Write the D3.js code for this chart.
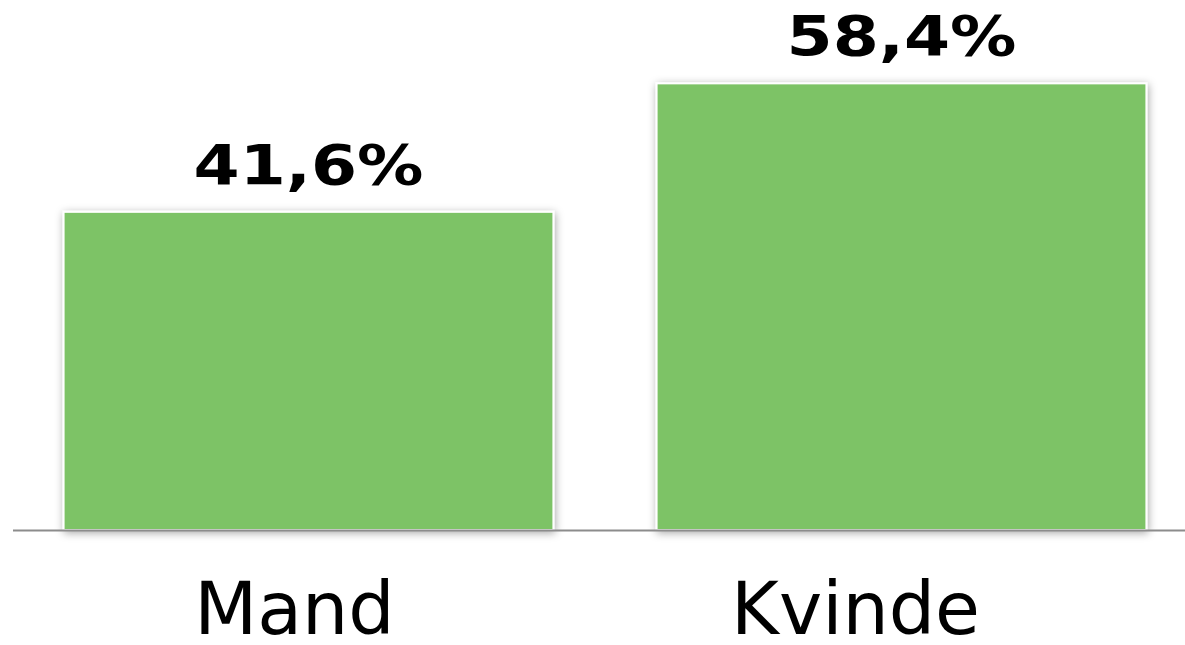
<!DOCTYPE html>
<html>
<head>
<meta charset="utf-8">
<script src="https://cdn.jsdelivr.net/npm/d3@7"></script>
<style>
  body { margin: 0; background: #fff; }
  svg { display: block; }
</style>
</head>
<body>
<svg id="chart"></svg>
<script>
// data
const categories = ["Mand", "Kvinde"];
const values = [41.6, 58.4];
const value_labels = ["41,6%", "58,4%"];

const width = 1185, height = 645;
const baseline = 530;

const svg = d3.select("#chart").attr("width", width).attr("height", height);

// bar shadow
const defs = svg.append("defs");
const filt = defs.append("filter").attr("id", "shadow")
  .attr("x", "-5%").attr("y", "-5%").attr("width", "115%").attr("height", "115%");
filt.append("feDropShadow")
  .attr("dx", 1).attr("dy", 2).attr("stdDeviation", 4)
  .attr("flood-color", "#000").attr("flood-opacity", 0.35);

// scales
const x = d3.scaleBand().domain(categories).range([12, 1198])
  .paddingInner(0.174).paddingOuter(0.087);
const y = d3.scaleLinear().domain([0, 69.3]).range([baseline, 0]);
// category labels sit a bit left of the bars in the original
const x_lab = d3.scaleBand().domain(categories).range([14, 1136]);

const data = categories.map((c, i) => ({ cat: c, val: values[i], lab: value_labels[i] }));

// bars
svg.append("g").selectAll("rect").data(data).enter().append("rect")
  .attr("x", d => x(d.cat))
  .attr("y", d => y(d.val))
  .attr("width", x.bandwidth())
  .attr("height", d => baseline - y(d.val))
  .attr("fill", "#7dc366")
  .attr("stroke", "#fff")
  .attr("stroke-width", 2)
  .attr("filter", "url(#shadow)");

// axis line
svg.append("line")
  .attr("x1", 13).attr("x2", width)
  .attr("y1", baseline + 0.5).attr("y2", baseline + 0.5)
  .attr("stroke", "#8c8c8c").attr("stroke-width", 2);

// value labels
svg.append("g").selectAll("text").data(data).enter().append("text")
  .attr("x", d => x(d.cat) + x.bandwidth() / 2 - 115)
  .attr("y", d => y(d.val) - 28)
  .attr("font-family", "DejaVu Sans")
  .attr("font-weight", "bold")
  .attr("font-size", 56)
  .attr("textLength", 230)
  .attr("lengthAdjust", "spacingAndGlyphs")
  .text(d => d.lab);

// category labels
svg.append("g").selectAll("text").data(data).enter().append("text")
  .attr("x", d => x_lab(d.cat) + x_lab.bandwidth() / 2)
  .attr("y", 634)
  .attr("text-anchor", "middle")
  .attr("font-family", "DejaVu Sans")
  .attr("font-size", 73)
  .text(d => d.cat);
</script>
</body>
</html>
